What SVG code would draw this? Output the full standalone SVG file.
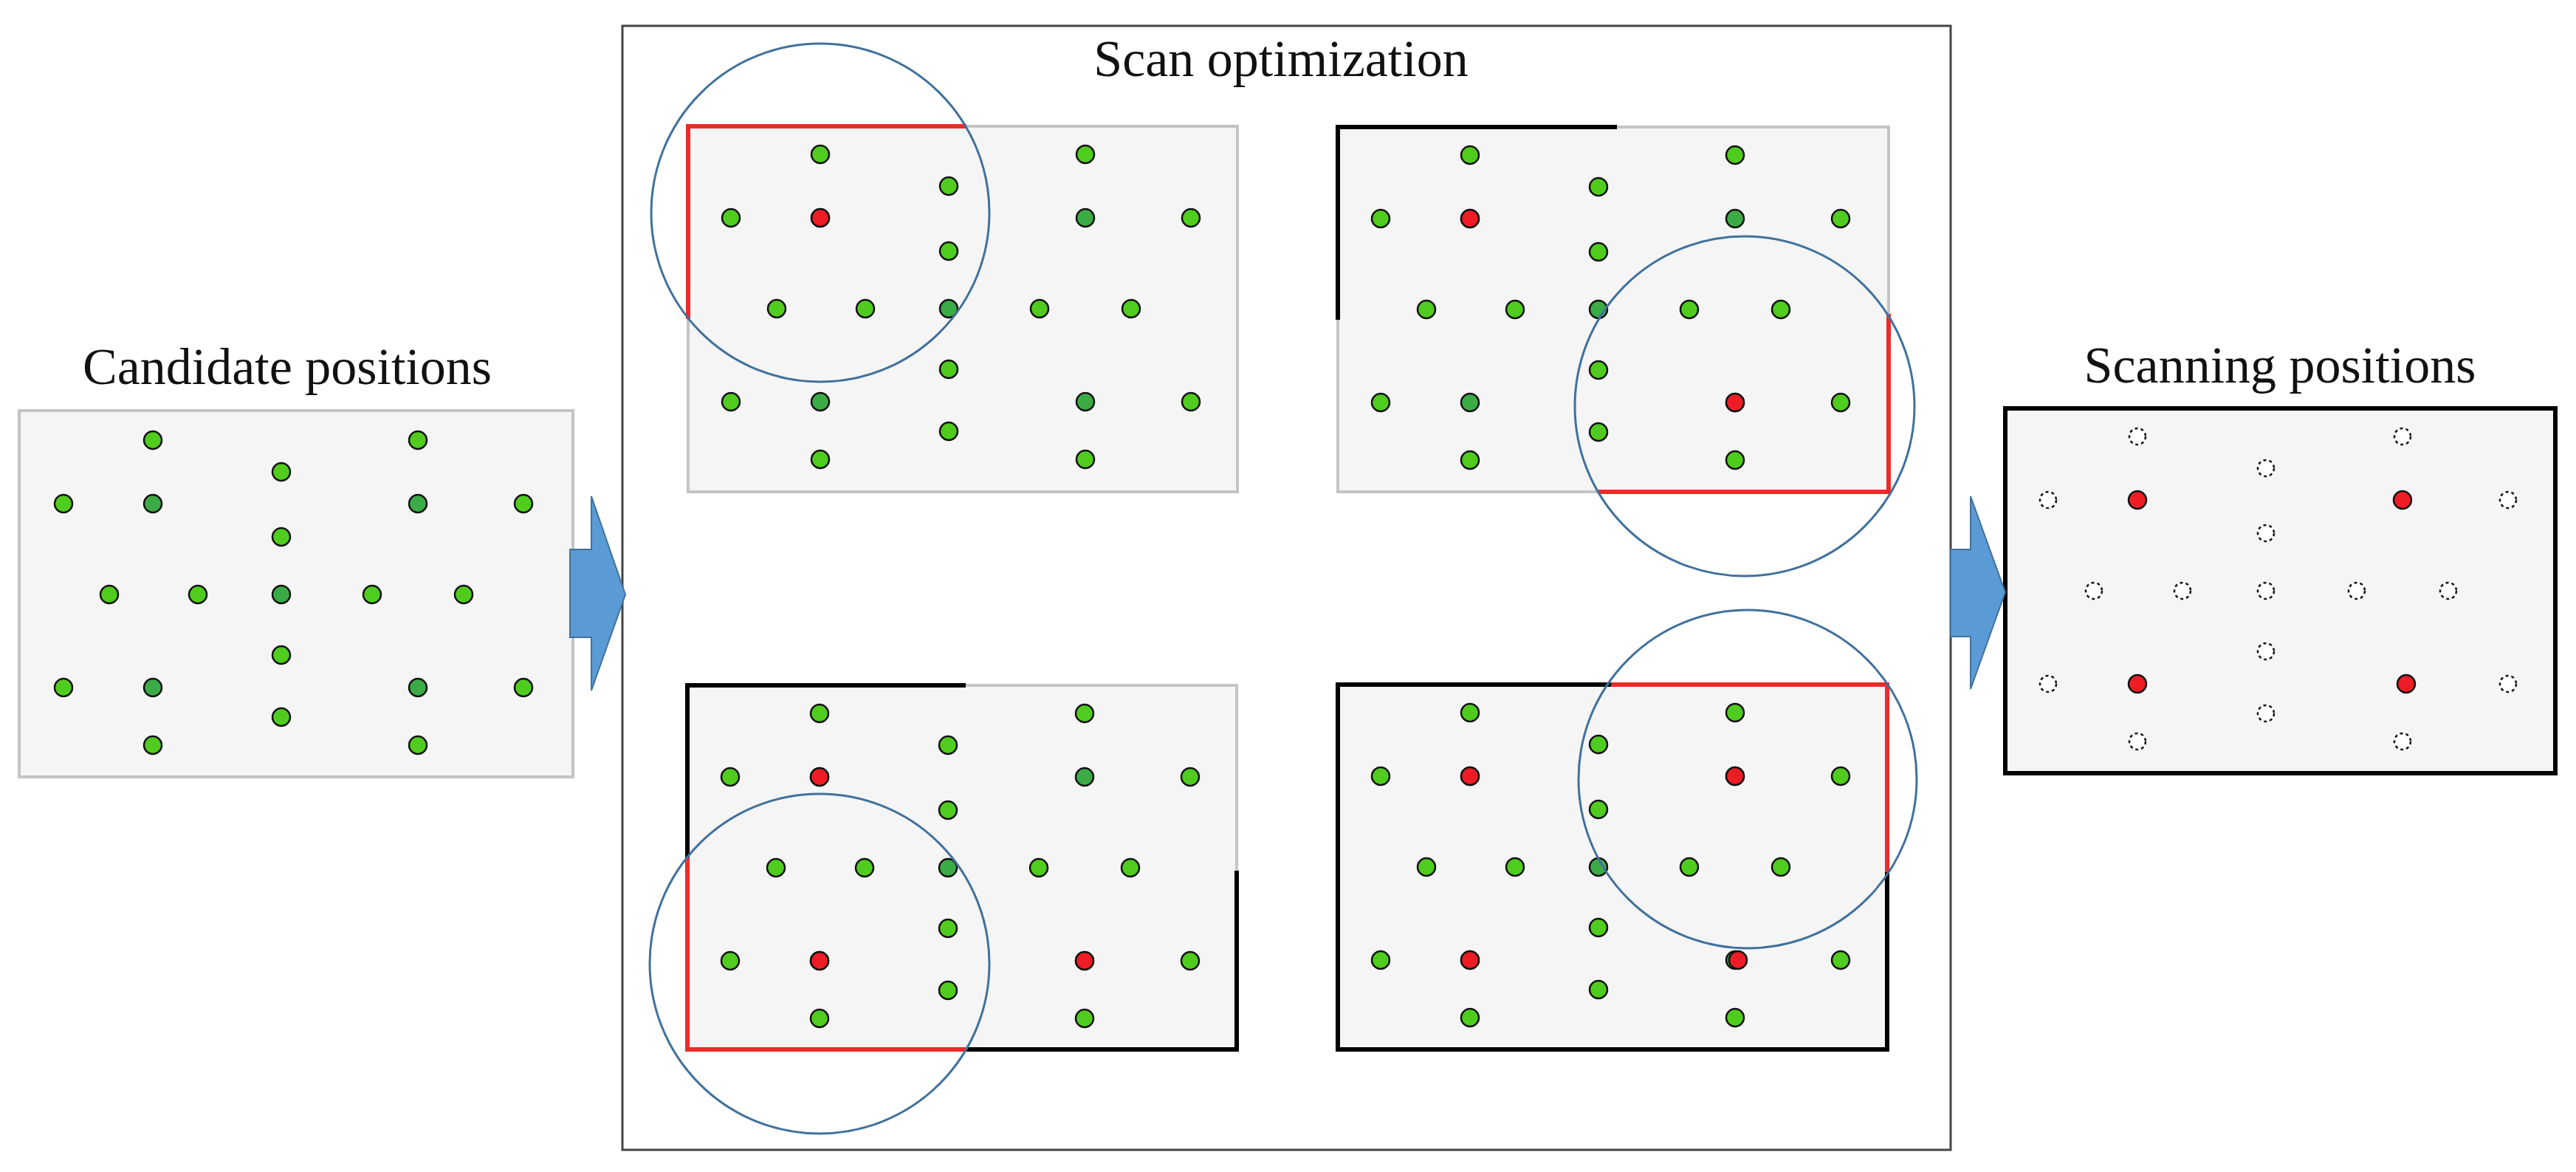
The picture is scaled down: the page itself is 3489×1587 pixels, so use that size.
<svg xmlns="http://www.w3.org/2000/svg" xmlns:xlink="http://www.w3.org/1999/xlink" width="3489" height="1587" viewBox="0 0 3489 1587">
<style>
.t{font-family:"Liberation Serif","Times New Roman",serif;font-size:70px;fill:#111;text-anchor:middle}
.g{fill:#4fcc1d;stroke:#111;stroke-width:2.5}
.gd{fill:#3bab45;stroke:#111;stroke-width:2.5}
.r{fill:#ee1c24;stroke:#111;stroke-width:2.5}
.w{fill:#fff;stroke:#111;stroke-width:2.5;stroke-dasharray:4 4}
.panel{fill:#f5f5f5;stroke:#c4c4c4;stroke-width:4}
.blk{fill:none;stroke:#000;stroke-width:6}
.red{fill:none;stroke:#ee2a2a;stroke-width:6}
.circ{fill:none;stroke:#41719c;stroke-width:3}
.arrow{fill:#5b9bd5;stroke:#41719c;stroke-width:2}
</style>
<defs>
<g id="dots">
<circle class="g" cx="179" cy="38" r="12"/><circle class="g" cx="538" cy="38" r="12"/>
<circle class="g" cx="353" cy="81" r="12"/>
<circle class="g" cx="58" cy="124" r="12"/><circle class="gd" cx="179" cy="124" r="12"/><circle class="gd" cx="538" cy="124" r="12"/><circle class="g" cx="681" cy="124" r="12"/>
<circle class="g" cx="353" cy="169" r="12"/>
<circle class="g" cx="120" cy="247" r="12"/><circle class="g" cx="240" cy="247" r="12"/><circle class="gd" cx="353" cy="247" r="12"/><circle class="g" cx="476" cy="247" r="12"/><circle class="g" cx="600" cy="247" r="12"/>
<circle class="g" cx="353" cy="329" r="12"/>
<circle class="g" cx="58" cy="373" r="12"/><circle class="gd" cx="179" cy="373" r="12"/><circle class="gd" cx="538" cy="373" r="12"/><circle class="g" cx="681" cy="373" r="12"/>
<circle class="g" cx="353" cy="413" r="12"/>
<circle class="g" cx="179" cy="451" r="12"/><circle class="g" cx="538" cy="451" r="12"/>
</g>
</defs>
<rect width="3489" height="1587" fill="#fff"/>

<g id="candidate">
<text class="t" x="389" y="520">Candidate positions</text>
<rect class="panel" x="26" y="556" width="750" height="496"/>
<use xlink:href="#dots" transform="translate(28,558)"/>
</g>

<g id="optimization">
<rect x="843" y="35" width="1799" height="1522" fill="none" stroke="#444" stroke-width="3"/>
<text class="t" x="1735" y="103">Scan optimization</text>
<g id="panel1">
<rect class="panel" x="932" y="171" width="744" height="495"/>
<use xlink:href="#dots" transform="translate(932,171)"/>
<circle class="r" cx="1111" cy="295" r="12"/>
<path class="red" d="M932,432 V171 H1309"/>
<circle class="circ" cx="1111" cy="288" r="229"/>
</g>
<g id="panel2">
<rect class="panel" x="1812" y="172" width="746" height="494"/>
<use xlink:href="#dots" transform="translate(1812,172)"/>
<circle class="r" cx="1991" cy="296" r="12"/><circle class="r" cx="2350" cy="545" r="12"/>
<path class="blk" d="M1812,433 V172 H2190"/>
<path class="red" d="M2558,425 V666 H2165"/>
<circle class="circ" cx="2363" cy="550" r="230"/>
</g>
<g id="panel3">
<rect class="panel" x="931" y="928" width="744" height="493"/>
<use xlink:href="#dots" transform="translate(931,928)"/>
<circle class="r" cx="1110" cy="1052" r="12"/><circle class="r" cx="1110" cy="1301" r="12"/><circle class="r" cx="1469" cy="1301" r="12"/>
<path class="blk" d="M931,1161 V928 H1308"/>
<path class="blk" d="M1308,1421 H1675 V1179"/>
<path class="red" d="M931,1161 V1421 H1308"/>
<circle class="circ" cx="1110" cy="1305" r="230"/>
</g>
<g id="panel4">
<rect class="panel" x="1812" y="927" width="744" height="494"/>
<use xlink:href="#dots" transform="translate(1812,927)"/>
<circle class="r" cx="1991" cy="1051" r="12"/><circle class="r" cx="2350" cy="1051" r="12"/><circle class="r" cx="1991" cy="1300" r="12"/><circle class="r" cx="2354" cy="1300" r="12"/>
<path class="blk" d="M2182,927 H1812 V1421 H2556 V1181"/>
<path class="red" d="M2182,927 H2556 V1181"/>
<circle class="circ" cx="2367" cy="1055" r="229"/>
</g>
</g>

<g id="scanning">
<text class="t" x="3088" y="518">Scanning positions</text>
<rect x="2716" y="553" width="745" height="494" fill="#f5f5f5" stroke="#000" stroke-width="6"/>
<g transform="translate(2716,553)">
<circle class="w" cx="179" cy="38" r="11"/><circle class="w" cx="538" cy="38" r="11"/>
<circle class="w" cx="353" cy="81" r="11"/>
<circle class="w" cx="58" cy="124" r="11"/><circle class="r" cx="179" cy="124" r="12"/><circle class="r" cx="538" cy="124" r="12"/><circle class="w" cx="681" cy="124" r="11"/>
<circle class="w" cx="353" cy="169" r="11"/>
<circle class="w" cx="120" cy="247" r="11"/><circle class="w" cx="240" cy="247" r="11"/><circle class="w" cx="353" cy="247" r="11"/><circle class="w" cx="476" cy="247" r="11"/><circle class="w" cx="600" cy="247" r="11"/>
<circle class="w" cx="353" cy="329" r="11"/>
<circle class="w" cx="58" cy="373" r="11"/><circle class="r" cx="179" cy="373" r="12"/><circle class="r" cx="543" cy="373" r="12"/><circle class="w" cx="681" cy="373" r="11"/>
<circle class="w" cx="353" cy="413" r="11"/>
<circle class="w" cx="179" cy="451" r="11"/><circle class="w" cx="538" cy="451" r="11"/>
</g>
</g>

<g id="connectors">
<path class="arrow" d="M772,744 H801 V672 L847,805 L801,935 V863 H772 Z"/>
<path class="arrow" d="M2642,744 H2669 V672 L2716,802 L2669,933 V862 H2642 Z"/>
</g>
</svg>
